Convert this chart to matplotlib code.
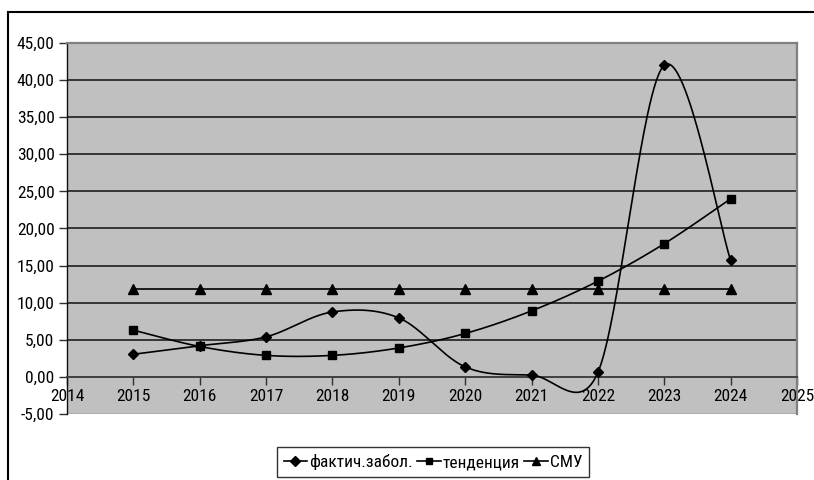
import matplotlib
matplotlib.use("Agg")
import matplotlib.pyplot as plt
import numpy as np
from matplotlib.patches import Rectangle
from matplotlib.ticker import FuncFormatter, MultipleLocator

# Data
years = [2015, 2016, 2017, 2018, 2019, 2020, 2021, 2022, 2023, 2024]
fact = [3.05, 4.2, 5.4, 8.75, 7.95, 1.35, 0.25, 0.6, 42.0, 15.7]
trend = [6.3, 4.1, 2.9, 2.9, 3.9, 5.85, 8.9, 12.9, 17.95, 24.0]
smu = [11.9] * 10
labels = ["фактич.забол.", "тенденция", "СМУ"]

plt.rcParams["font.family"] = ["Roboto Condensed", "PT Sans Narrow", "DejaVu Sans"]
FS = 12.5

W, H = 814, 480
left, right, top, bottom = 67, 797, 43, 414
XMIN, XMAX, YMIN, YMAX = 2014, 2025, -5, 45
sx = (right - left) / (XMAX - XMIN)   # pixels per year
sy = (bottom - top) / (YMAX - YMIN)   # pixels per unit


def smooth(xs, ys, n=60, cap=0.7):
    """Smoothed line: cubic Bezier segments whose control arms follow the
    neighbouring points (1/6 rule), with arm length capped relative to the chord."""
    P = np.column_stack([np.asarray(xs, float) * sx, np.asarray(ys, float) * sy])
    m = len(P)
    out = []
    for i in range(m - 1):
        p0, p1, p2, p3 = P[max(i - 1, 0)], P[i], P[i + 1], P[min(i + 2, m - 1)]
        lim = np.linalg.norm(p2 - p1) * cap
        v1, v2 = p2 - p0, p3 - p1
        n1, n2 = np.linalg.norm(v1), np.linalg.norm(v2)
        c1 = p1 + (v1 / 6 if n1 / 6 <= lim else v1 * lim / n1)
        c2 = p2 - (v2 / 6 if n2 / 6 <= lim else v2 * lim / n2)
        t = np.linspace(0, 1, n)[:, None]
        pts = (1 - t) ** 3 * p1 + 3 * (1 - t) ** 2 * t * c1 + 3 * (1 - t) * t ** 2 * c2 + t ** 3 * p2
        out.append(pts)
    pts = np.vstack(out)
    return pts[:, 0] / sx, pts[:, 1] / sy


fig = plt.figure(figsize=(W / 100, H / 100), dpi=100)

# outer chart frame
fig.patches.append(Rectangle((8 / W, -0.01), 1.02, (H - 12) / H + 0.01, transform=fig.transFigure,
                             fill=False, edgecolor="black", linewidth=1.5))

ax = fig.add_axes([left / W, (H - bottom) / H, (right - left) / W, (bottom - top) / H])
ax.set_facecolor("#c0c0c0")
ax.set_xlim(XMIN, XMAX)
ax.set_ylim(YMIN, YMAX)

ax.yaxis.set_major_locator(MultipleLocator(5))
ax.xaxis.set_major_locator(MultipleLocator(1))
ax.yaxis.set_major_formatter(FuncFormatter(lambda v, p: f"{v:.2f}".replace(".", ",")))
ax.xaxis.set_major_formatter(FuncFormatter(lambda v, p: f"{int(round(v))}"))

for y in range(5, 45, 5):
    ax.axhline(y, color="#101010", linewidth=1.1, zorder=1)
ax.axhline(YMIN, color="#a8a8a8", linewidth=1.2, zorder=1)

for s in ["top", "right"]:
    ax.spines[s].set_color("#808080")
    ax.spines[s].set_linewidth(1.6)
ax.spines["left"].set_color("#101010")
ax.spines["left"].set_linewidth(1.0)
ax.spines["bottom"].set_position(("data", 0))
ax.spines["bottom"].set_color("#404040")
ax.spines["bottom"].set_linewidth(1.4)

ax.tick_params(axis="both", direction="out", length=6, width=1, color="#303030")
ax.tick_params(axis="x", pad=3, labelsize=FS)
ax.tick_params(axis="y", pad=3, labelsize=FS)

# series
fx, fy = smooth(years, fact)
tx, ty = smooth(years, trend)
ax.plot(fx, fy, color="black", linewidth=1.2, zorder=3)
ax.plot(tx, ty, color="black", linewidth=1.2, zorder=3)
ax.plot(years, smu, color="black", linewidth=1.2, zorder=3)
ax.plot(years, fact, linestyle="none", marker="D", markersize=5.5, color="black", zorder=4)
ax.plot(years, trend, linestyle="none", marker="s", markersize=5.5, color="black", zorder=4)
ax.plot(years, smu, linestyle="none", marker="^", markersize=6.5, color="black", zorder=4)

h1, = ax.plot([], [], color="black", linewidth=1.2, marker="D", markersize=5)
h2, = ax.plot([], [], color="black", linewidth=1.2, marker="s", markersize=5)
h3, = ax.plot([], [], color="black", linewidth=1.2, marker="^", markersize=6)
leg = fig.legend([h1, h2, h3], labels, loc="center", bbox_to_anchor=(433 / W, (H - 462) / H),
                 ncol=3, frameon=True, fancybox=False, handlelength=1.35, handletextpad=0.12,
                 columnspacing=0.25, borderpad=0.38, borderaxespad=0, fontsize=FS)
leg.get_frame().set_edgecolor("black")
leg.get_frame().set_linewidth(1.0)

fig.savefig("out.png", dpi=100)
